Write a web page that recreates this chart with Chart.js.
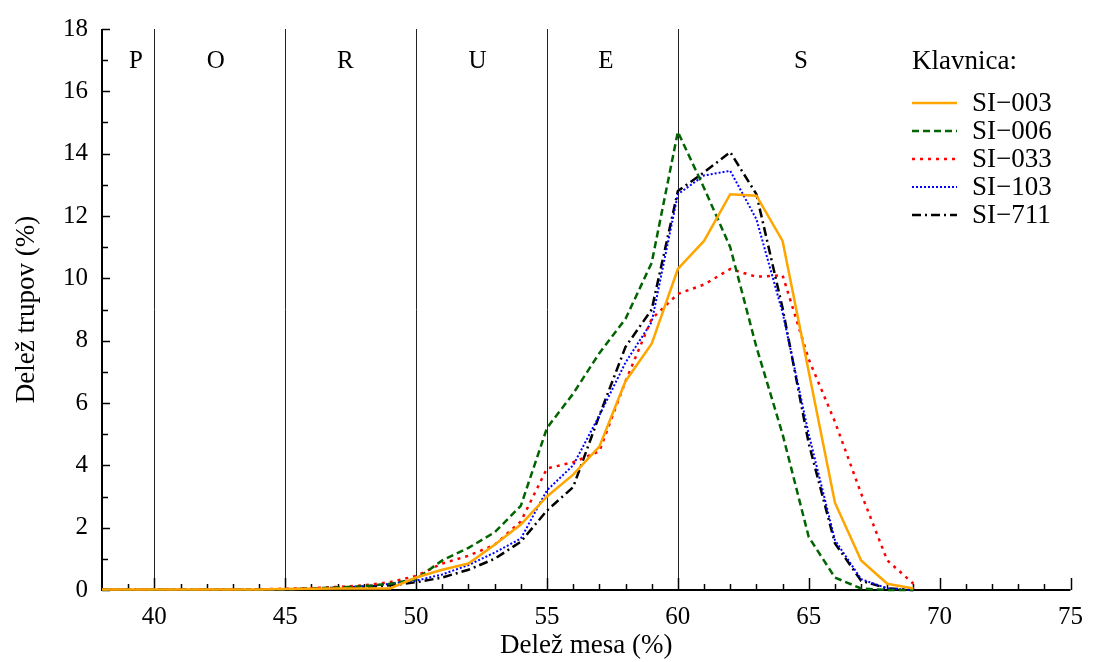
<!DOCTYPE html>
<html>
<head>
<meta charset="utf-8">
<script src="https://cdn.jsdelivr.net/npm/chart.js@4.4.1/dist/chart.umd.min.js"></script>
<style>
  html, body { margin: 0; padding: 0; background: #fff; }
  #wrap { width: 1095px; height: 662px; }
</style>
</head>
<body>
<div id="wrap"><canvas id="grafico" width="1095" height="662"></canvas></div>
<script>
// delez mesa (%) - x vrednosti
const delezMesa = [38,39,40,41,42,43,44,45,46,47,48,49,50,51,52,53,54,55,56,57,58,59,60,61,62,63,64,65,66,67,68,69];

// delez trupov (%) po klavnicah
const si003 = [0.02,0.02,0.02,0.02,0.02,0.02,0.02,0.03,0.04,0.05,0.05,0.05,0.4,0.65,0.85,1.45,2.1,3.0,3.7,4.6,6.7,7.9,10.3,11.2,12.7,12.65,11.2,7.0,2.8,0.95,0.2,0.05];
const si006 = [0.01,0.01,0.01,0.01,0.01,0.01,0.01,0.02,0.05,0.08,0.12,0.2,0.35,0.95,1.35,1.85,2.7,5.2,6.3,7.6,8.7,10.5,14.7,12.9,11.0,7.8,5.0,1.7,0.4,0.05,0,0];
const si033 = [0.02,0.02,0.02,0.02,0.02,0.02,0.02,0.04,0.06,0.1,0.15,0.25,0.45,0.85,1.1,1.45,2.2,3.9,4.1,4.45,6.7,8.7,9.5,9.8,10.3,10.05,10.1,7.4,5.4,3.1,0.95,0.2];
const si103 = [0.01,0.01,0.01,0.01,0.01,0.01,0.01,0.02,0.04,0.07,0.12,0.2,0.3,0.5,0.8,1.2,1.65,3.2,4.0,5.6,7.3,8.6,12.7,13.3,13.45,11.9,8.9,5.0,1.6,0.35,0.05,0];
const si711 = [0.01,0.01,0.01,0.01,0.01,0.01,0.01,0.02,0.04,0.07,0.1,0.15,0.25,0.4,0.65,1.0,1.55,2.55,3.3,5.6,7.8,9.0,12.8,13.4,14.05,12.7,9.05,4.7,1.5,0.3,0.05,0];

const xTicks = [40,45,50,55,60,65,70,75];
const yTicks = [0,2,4,6,8,10,12,14,16,18];

// razredi SEUROP
const zoneBounds = [40,45,50,55,60];
const zoneLabels = ['P','O','R','U','E','S'];
const zonePos = [39.3,42.35,47.3,52.35,57.25,64.7];
const zoneLabelY = 16.95;

const serif = '"Liberation Serif", "Times New Roman", serif';

function pari(arr) {
  return arr.map((v, i) => ({ x: delezMesa[i], y: v }));
}

function crta(ctx, x1, y1, x2, y2) {
  ctx.beginPath();
  ctx.moveTo(x1, y1);
  ctx.lineTo(x2, y2);
  ctx.stroke();
}

const oznake = {
  id: 'oznake',
  beforeDatasetsDraw(chart) {
    const { ctx, chartArea: a, scales: { x, y } } = chart;
    ctx.save();
    // navpicne meje razredov
    ctx.strokeStyle = '#222';
    ctx.lineWidth = 1;
    zoneBounds.forEach(v => {
      const px = Math.round(x.getPixelForValue(v)) + 0.5;
      crta(ctx, px, a.top, px, a.bottom);
    });
    ctx.fillStyle = '#000';
    ctx.font = '25px ' + serif;
    ctx.textAlign = 'center';
    ctx.textBaseline = 'middle';
    zoneLabels.forEach((t, i) => {
      ctx.fillText(t, x.getPixelForValue(zonePos[i]), y.getPixelForValue(zoneLabelY));
    });

    // osi
    ctx.strokeStyle = '#000';
    ctx.lineWidth = 2;
    crta(ctx, a.left, a.top, a.left, a.bottom + 1);
    crta(ctx, a.left - 1, a.bottom, a.right, a.bottom);
    ctx.lineWidth = 1.5;
    for (let v = 0; v <= 18; v++) {
      const py = Math.round(y.getPixelForValue(v)) + 0.5;
      crta(ctx, a.left, py, a.left + (v % 2 === 0 ? 8 : 6), py);
    }
    for (let v = 39; v <= 75; v++) {
      const px = Math.round(x.getPixelForValue(v)) + 0.5;
      crta(ctx, px, a.bottom, px, a.bottom - (v % 5 === 0 ? 12 : 6));
    }
    ctx.restore();
  },
  afterDraw(chart) {
    const { ctx } = chart;
    ctx.save();
    ctx.fillStyle = '#000';
    ctx.font = '27px ' + serif;
    ctx.textAlign = 'left';
    ctx.textBaseline = 'middle';
    ctx.fillText('Klavnica:', 912, 62);
    chart.data.datasets.forEach((ds, i) => {
      const yy = 103 + i * 28;
      ctx.strokeStyle = ds.borderColor;
      ctx.lineWidth = ds.borderWidth;
      ctx.setLineDash(ds.borderDash || []);
      crta(ctx, 912, yy, 957, yy);
      ctx.setLineDash([]);
      ctx.fillText(ds.label, 972, yy + 1);
    });
    ctx.restore();
  }
};

const ctx = document.getElementById('grafico').getContext('2d');
const chart = new Chart(ctx, {
  type: 'line',
  data: {
    datasets: [
      { label: 'SI\u2212003', data: pari(si003), borderColor: '#ffa500', borderWidth: 2.5, borderDash: [] },
      { label: 'SI\u2212006', data: pari(si006), borderColor: '#006400', borderWidth: 2.5, borderDash: [7, 4] },
      { label: 'SI\u2212033', data: pari(si033), borderColor: '#ff0000', borderWidth: 2.5, borderDash: [3, 5] },
      { label: 'SI\u2212103', data: pari(si103), borderColor: '#0000ff', borderWidth: 2, borderDash: [2, 2] },
      { label: 'SI\u2212711', data: pari(si711), borderColor: '#000000', borderWidth: 2.5, borderDash: [9, 4, 2, 4] }
    ]
  },
  options: {
    responsive: false,
    animation: false,
    devicePixelRatio: 1,
    layout: { padding: { left: 0, top: 27, right: 20, bottom: 0 } },
    elements: {
      point: { radius: 0 },
      line: { tension: 0, fill: false }
    },
    datasets: { line: { clip: false } },
    plugins: {
      legend: { display: false },
      tooltip: { enabled: false }
    },
    scales: {
      x: {
        type: 'linear',
        min: 38,
        max: 75,
        grid: { display: false, drawTicks: false },
        border: { display: false },
        afterBuildTicks: axis => { axis.ticks = xTicks.map(v => ({ value: v })); },
        afterFit: axis => { axis.height = 72; },
        ticks: { color: '#000', padding: 12, font: { family: serif, size: 25 } },
        title: { display: true, text: 'Delež mesa (%)', color: '#000', padding: { top: 0, bottom: 0 }, font: { family: serif, size: 27 } }
      },
      y: {
        min: 0,
        max: 18,
        grid: { display: false, drawTicks: false },
        border: { display: false },
        afterBuildTicks: axis => { axis.ticks = yTicks.map(v => ({ value: v })); },
        afterFit: axis => { axis.width = 102; },
        ticks: { color: '#000', padding: 14, font: { family: serif, size: 25 } },
        title: { display: true, text: 'Delež trupov (%)', color: '#000', padding: { top: 11, bottom: 0 }, font: { family: serif, size: 27 } }
      }
    }
  },
  plugins: [oznake]
});
</script>
</body>
</html>
